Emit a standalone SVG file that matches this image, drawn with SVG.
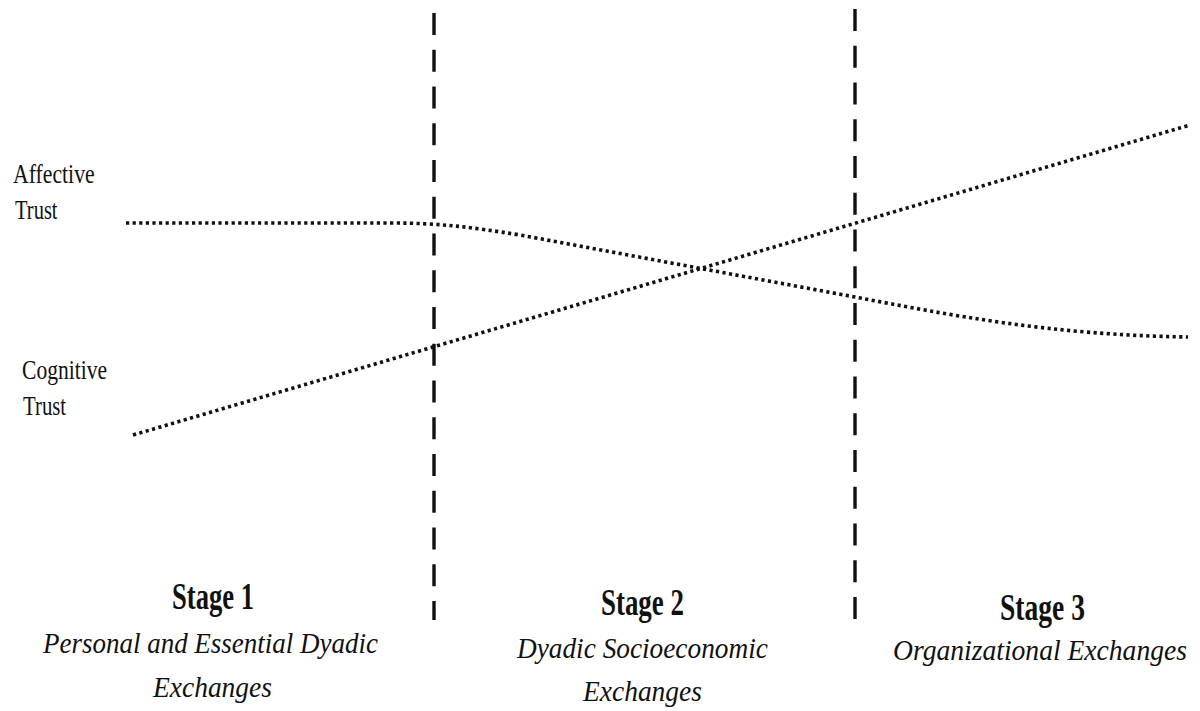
<svg xmlns="http://www.w3.org/2000/svg" width="1200" height="711" viewBox="0 0 1200 711">
<style>
.bg{fill:#fff}
.div{stroke:#111;stroke-width:3.4;stroke-dasharray:22 14.75;fill:none}
.dot{stroke:#111;stroke-width:3.6;stroke-dasharray:3.2 3.4;fill:none}
.lbl{font-family:"Liberation Serif","Times New Roman",serif;font-size:27px;fill:#111}
.stage{font-family:"Liberation Serif","Times New Roman",serif;font-size:38px;font-weight:bold;fill:#111}
.desc{font-family:"Liberation Serif","Times New Roman",serif;font-size:30px;font-style:italic;fill:#111}
</style>
<rect class="bg" x="0" y="0" width="1200" height="711"/>
<g id="dividers">
<line class="div" x1="434" y1="13" x2="434" y2="620"/>
<line class="div" x1="855" y1="9" x2="855" y2="620"/>
</g>
<g id="connectors">
<path id="affective-curve" class="dot" d="M126,223 L390,223 C440,223 470,227 520,235 L855,297 C950,315 1050,335 1188,337"/>
<path id="cognitive-line" class="dot" d="M133,435 L1190,125"/>
</g>
<g id="affective-label">
<text class="lbl" transform="translate(13,183) scale(0.805,1)">Affective</text>
<text class="lbl" transform="translate(15,219) scale(0.76,1)">Trust</text>
</g>
<g id="cognitive-label">
<text class="lbl" transform="translate(22,379) scale(0.8,1)">Cognitive</text>
<text class="lbl" transform="translate(23,415) scale(0.77,1)">Trust</text>
</g>
<g id="stage1">
<text class="stage" transform="translate(172,609) scale(0.70,1)">Stage 1</text>
<text class="desc" transform="translate(43,653) scale(0.9,1)">Personal and Essential Dyadic</text>
<text class="desc" transform="translate(153,697) scale(0.916,1)">Exchanges</text>
</g>
<g id="stage2">
<text class="stage" transform="translate(601,615) scale(0.708,1)">Stage 2</text>
<text class="desc" transform="translate(517,658) scale(0.91,1)">Dyadic Socioeconomic</text>
<text class="desc" transform="translate(583,701) scale(0.916,1)">Exchanges</text>
</g>
<g id="stage3">
<text class="stage" transform="translate(1000,620) scale(0.725,1)">Stage 3</text>
<text class="desc" transform="translate(893,660) scale(0.92,1)">Organizational Exchanges</text>
</g>
</svg>
